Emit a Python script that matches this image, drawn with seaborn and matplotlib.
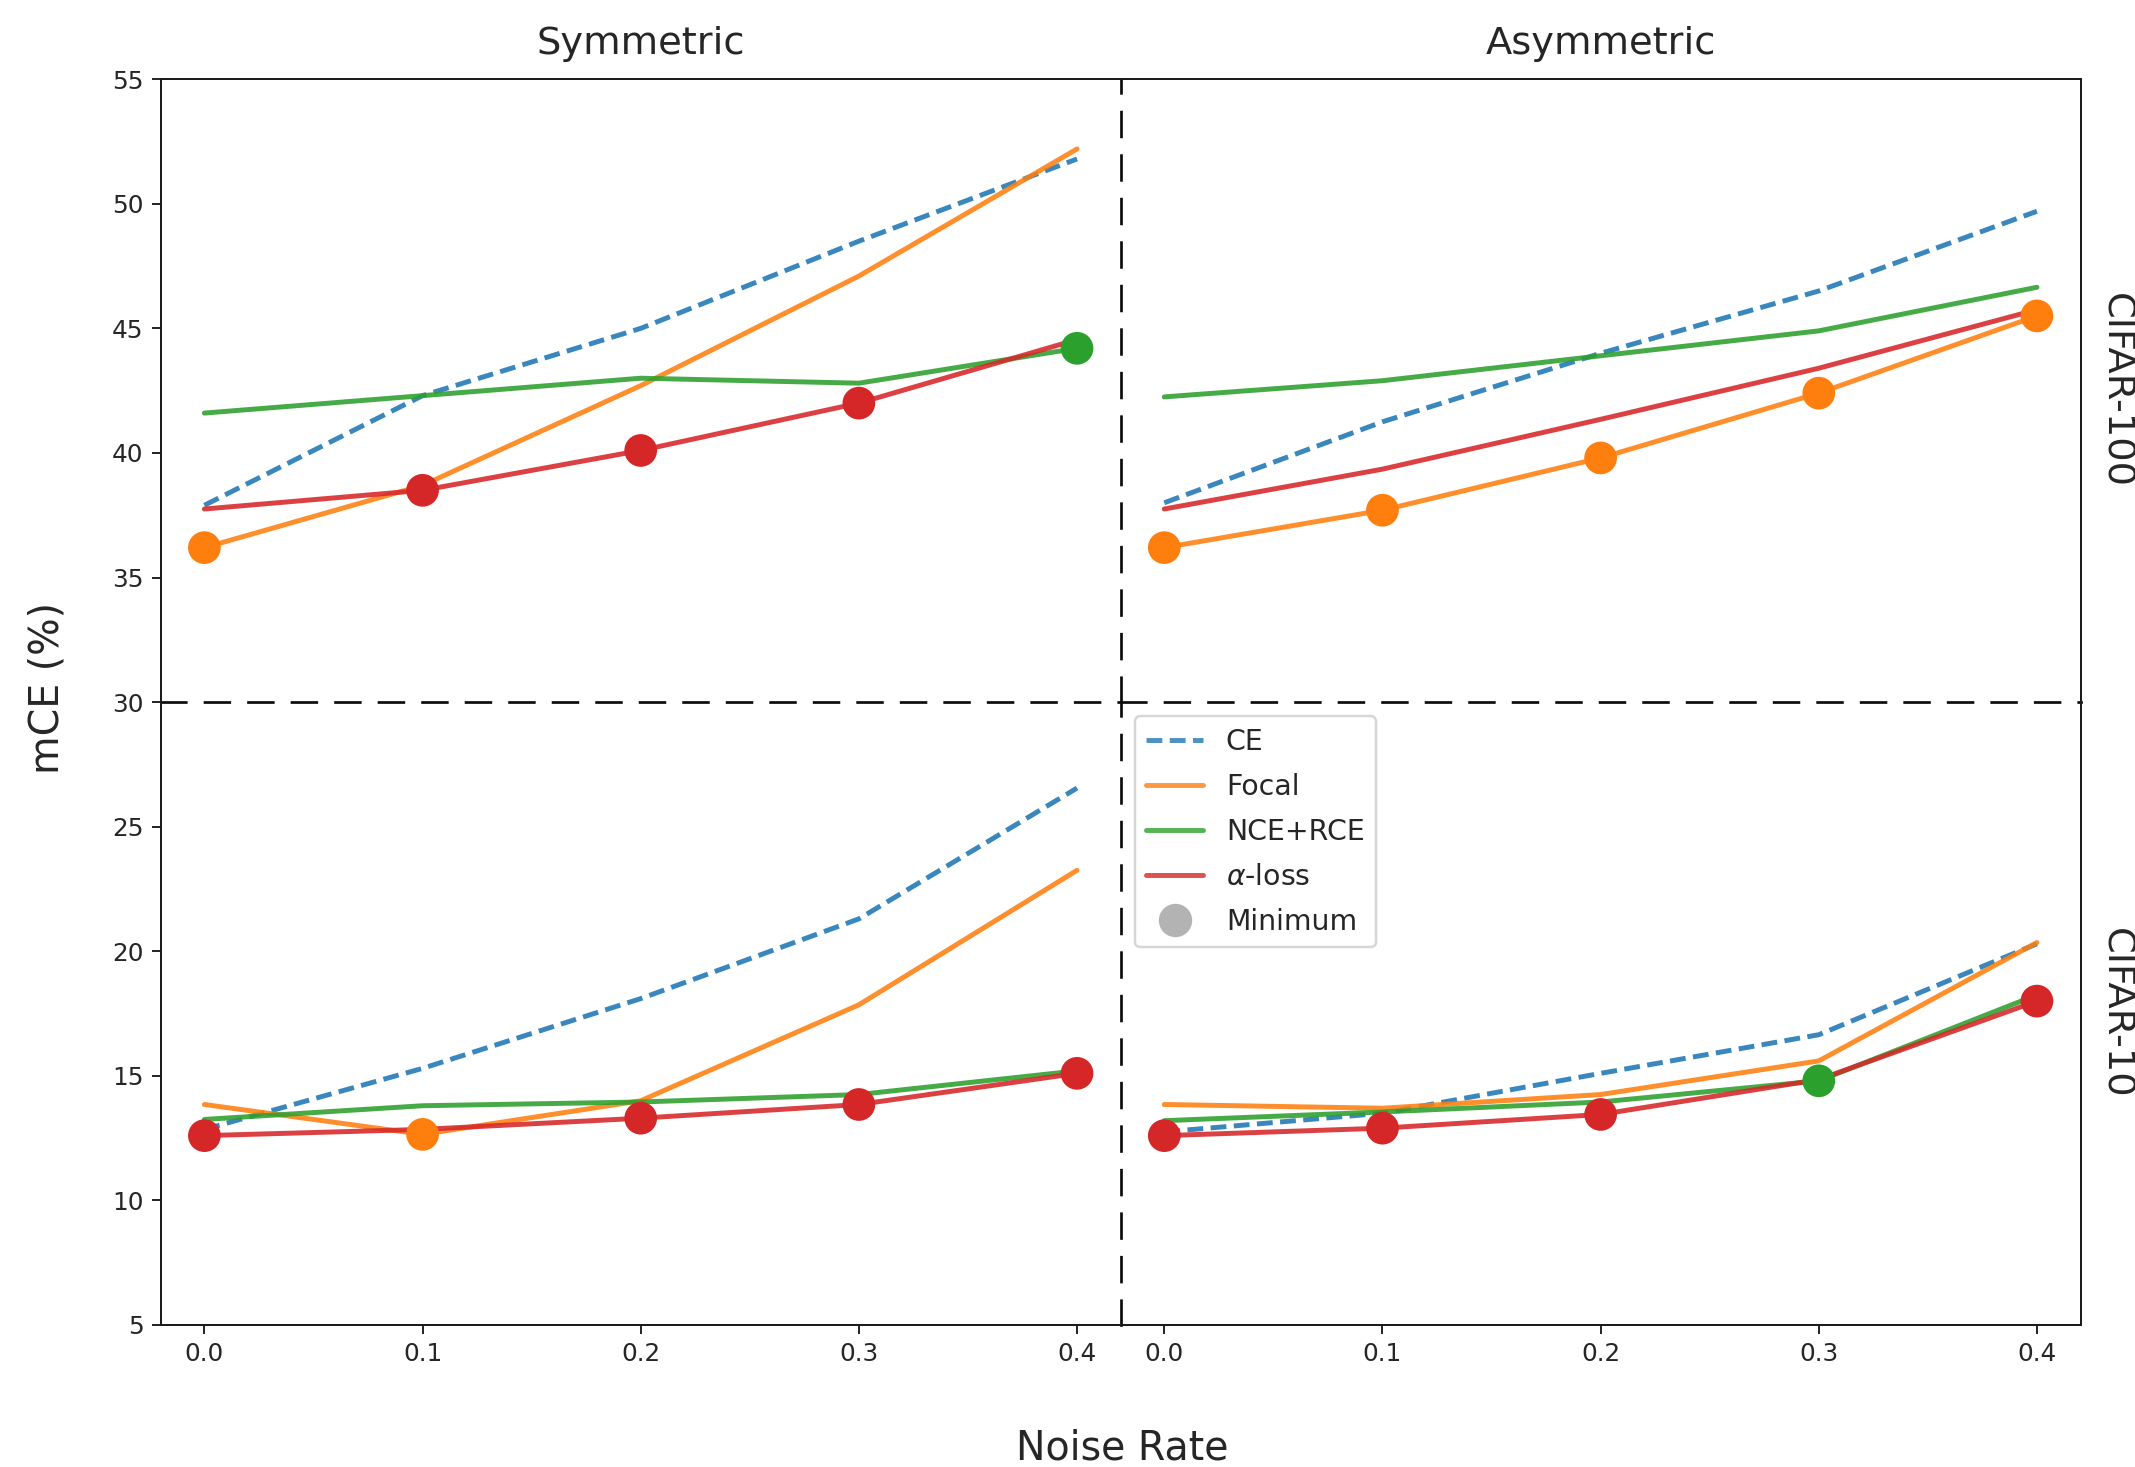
import numpy as np
import pandas as pd
import seaborn as sns
import matplotlib.pyplot as plt
from matplotlib.lines import Line2D

sns.set_theme(style="ticks")
plt.rcParams["font.family"] = ["DejaVu Sans"]
plt.rcParams.update({
    "axes.edgecolor": "0.1",
    "axes.linewidth": 0.8,
    "xtick.color": "0.15",
    "ytick.color": "0.15",
    "xtick.major.size": 3.5,
    "ytick.major.size": 3.5,
    "xtick.major.width": 0.8,
    "ytick.major.width": 0.8,
    "xtick.labelsize": 10,
    "ytick.labelsize": 10,
})

# ---- data (mCE %) ----
noise_rates = [0.0, 0.1, 0.2, 0.3, 0.4]
loss_names = ["CE", "Focal", "NCE+RCE", "alpha-loss"]
loss_labels = ["CE", "Focal", "NCE+RCE", r"$\alpha$-loss"]

# CIFAR-100, symmetric noise
c100_sym_ce = [37.9, 42.3, 45.0, 48.5, 51.8]
c100_sym_focal = [36.2, 38.7, 42.7, 47.1, 52.2]
c100_sym_nce = [41.6, 42.3, 43.0, 42.8, 44.2]
c100_sym_alpha = [37.75, 38.5, 40.1, 42.0, 44.55]

# CIFAR-100, asymmetric noise
c100_asym_ce = [38.0, 41.25, 44.0, 46.5, 49.7]
c100_asym_focal = [36.2, 37.7, 39.8, 42.4, 45.5]
c100_asym_nce = [42.25, 42.9, 43.9, 44.9, 46.65]
c100_asym_alpha = [37.75, 39.35, 41.35, 43.4, 45.75]

# CIFAR-10, symmetric noise
c10_sym_ce = [12.85, 15.3, 18.1, 21.3, 26.55]
c10_sym_focal = [13.85, 12.65, 14.0, 17.85, 23.25]
c10_sym_nce = [13.25, 13.8, 13.95, 14.25, 15.2]
c10_sym_alpha = [12.6, 12.85, 13.3, 13.85, 15.1]

# CIFAR-10, asymmetric noise
c10_asym_ce = [12.75, 13.5, 15.1, 16.65, 20.3]
c10_asym_focal = [13.85, 13.7, 14.25, 15.6, 20.35]
c10_asym_nce = [13.2, 13.55, 13.95, 14.8, 18.25]
c10_asym_alpha = [12.6, 12.9, 13.45, 14.85, 18.0]

datasets = ["CIFAR-100", "CIFAR-10"]
noise_types = ["Symmetric", "Asymmetric"]
panel_data = {
    ("CIFAR-100", "Symmetric"): [c100_sym_ce, c100_sym_focal, c100_sym_nce, c100_sym_alpha],
    ("CIFAR-100", "Asymmetric"): [c100_asym_ce, c100_asym_focal, c100_asym_nce, c100_asym_alpha],
    ("CIFAR-10", "Symmetric"): [c10_sym_ce, c10_sym_focal, c10_sym_nce, c10_sym_alpha],
    ("CIFAR-10", "Asymmetric"): [c10_asym_ce, c10_asym_focal, c10_asym_nce, c10_asym_alpha],
}
row_ylims = {"CIFAR-100": (30, 55), "CIFAR-10": (5, 30)}
row_yticks = {"CIFAR-100": [30, 35, 40, 45, 50, 55], "CIFAR-10": [5, 10, 15, 20, 25]}

palette = {"CE": "#1f77b4", "Focal": "#ff7f0e", "NCE+RCE": "#2ca02c", "alpha-loss": "#d62728"}
dashes = {"CE": (3.2, 1.5), "Focal": "", "NCE+RCE": "", "alpha-loss": ""}
DIV_STYLE = (0, (9.1, 6.9))
DIV_LW = 1.1

fig, axes = plt.subplots(2, 2, figsize=(2135 / 178, 1467 / 178), dpi=178)
fig.subplots_adjust(left=0.0753, right=0.9745, top=0.946, bottom=0.0968, wspace=0, hspace=0)

for i, ds in enumerate(datasets):
    for j, nt in enumerate(noise_types):
        ax = axes[i, j]
        ax.patch.set_visible(False)  # so neighbours don't hide the dashed dividers
        rows = []
        for name, vals in zip(loss_names, panel_data[(ds, nt)]):
            for x, v in zip(noise_rates, vals):
                rows.append({"noise": x, "mce": v, "loss": name})
        df = pd.DataFrame(rows)

        sns.lineplot(data=df, x="noise", y="mce", hue="loss", style="loss",
                     palette=palette, dashes=dashes, linewidth=2, alpha=0.88,
                     legend=False, ax=ax)

        # best loss at each noise rate
        best = df.loc[df.groupby("noise")["mce"].idxmin()]
        sns.scatterplot(data=best, x="noise", y="mce", hue="loss", palette=palette,
                        s=175, edgecolor="none", legend=False, zorder=5, ax=ax)

        ax.set_xlim(-0.02, 0.42)
        ax.set_ylim(*row_ylims[ds])
        ax.set_yticks(row_yticks[ds])
        ax.set_xticks(noise_rates)
        ax.set_xlabel("")
        ax.set_ylabel("")

        if i == 0:
            ax.set_title(nt, fontsize=15.5, pad=10)
            ax.tick_params(axis="x", bottom=False, labelbottom=False)
            ax.spines["bottom"].set_linestyle(DIV_STYLE)
            ax.spines["bottom"].set_linewidth(DIV_LW)
            ax.spines["bottom"].set_color("0.05")
        else:
            ax.spines["top"].set_visible(False)
        if j == 0:
            ax.spines["right"].set_linestyle(DIV_STYLE)
            ax.spines["right"].set_linewidth(DIV_LW)
            ax.spines["right"].set_color("0.05")
        else:
            ax.spines["left"].set_visible(False)
            ax.tick_params(axis="y", left=False, labelleft=False)
            ax.text(1.017, 0.5, ds, transform=ax.transAxes, rotation=270,
                    ha="left", va="center", fontsize=15.5)

fig.text(0.0223, 0.531, "mCE (%)", rotation=90, ha="center", va="center", fontsize=16)
fig.text(0.5255, 0.0125, "Noise Rate", ha="center", va="center", fontsize=16)

handles = [Line2D([0], [0], color=palette["CE"], lw=2, alpha=0.8, dashes=dashes["CE"])]
handles += [Line2D([0], [0], color=palette[n], lw=2, alpha=0.8) for n in loss_names[1:]]
handles.append(Line2D([0], [0], marker="o", color="none", markerfacecolor="#b3b3b3",
                      markeredgecolor="none", markersize=13.5))
axes[1, 1].legend(handles, loss_labels + ["Minimum"], loc="upper left", fontsize=11.5,
                  labelspacing=0.6, frameon=True)

fig.savefig("out.png", dpi=178)
